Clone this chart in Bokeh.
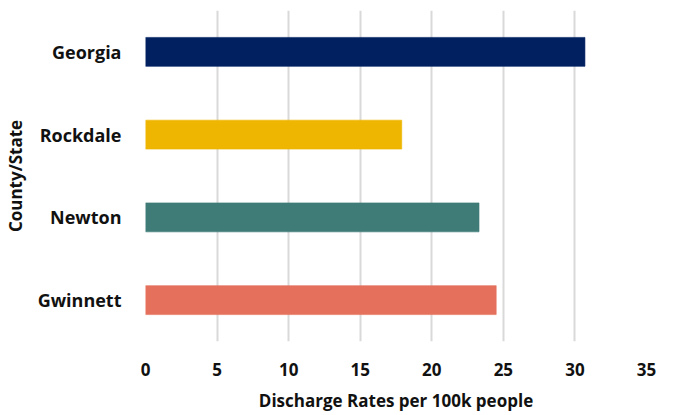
from bokeh.plotting import figure
from bokeh.models import ColumnDataSource, FixedTicker, Range1d
from bokeh.embed import file_html
from bokeh.resources import INLINE

categories = ["Gwinnett", "Newton", "Rockdale", "Georgia"]
rates = [24.5, 23.3, 17.9, 30.7]
colors = ["#e5705c", "#3f7c78", "#eeb600", "#002060"]
x_ticks = [0, 5, 10, 15, 20, 25, 30, 35]

FONT = "Open Sans"

src = ColumnDataSource(dict(cat=categories, rate=rates, color=colors))

p = figure(width=682, height=415, y_range=categories, x_range=Range1d(0, 35),
           output_backend="svg", toolbar_location=None,
           min_border_left=144, min_border_right=36, min_border_top=10, min_border_bottom=74)

p.hbar(y="cat", right="rate", left=0, height=0.35, color="color", line_color="color",
       line_alpha=0.6, source=src)

p.outline_line_color = None
p.ygrid.grid_line_color = None
p.xgrid.grid_line_color = "#d9d9d9"
p.xgrid.grid_line_width = 2
p.xaxis.ticker = FixedTicker(ticks=x_ticks)

for ax in (p.xaxis[0], p.yaxis[0]):
    ax.axis_line_color = None
    ax.major_tick_line_color = None
    ax.minor_tick_line_color = None
    ax.major_label_text_font = FONT
    ax.major_label_text_font_style = "bold"
    ax.major_label_text_color = "#111111"
    ax.axis_label_text_font = FONT
    ax.axis_label_text_font_style = "bold"
    ax.axis_label_text_font_size = "17px"
    ax.axis_label_text_color = "#111111"

p.xaxis.major_label_text_font_size = "17px"
p.yaxis.major_label_text_font_size = "18px"
p.xaxis.axis_label = "Discharge Rates per 100k people"
p.xaxis.major_label_standoff = 15
p.xaxis.axis_label_standoff = 10
p.yaxis.axis_label = "County/State"
p.yaxis.major_label_standoff = 18
p.yaxis.axis_label_standoff = 8

open("out.html", "w").write(file_html(p, INLINE))
